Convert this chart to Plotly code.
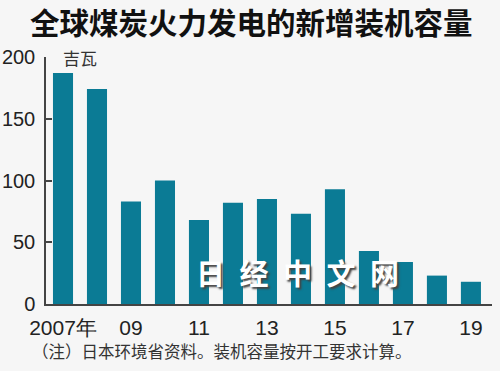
import plotly.graph_objects as go

years = list(range(2007, 2020))
capacity = [187, 174, 83, 100, 68, 82, 85, 73, 93, 43, 34, 23, 18]
xtick_vals = [2007, 2009, 2011, 2013, 2015, 2017, 2019]
xtick_text = ["2007年", "09", "11", "13", "15", "17", "19"]
ytick_vals = [0, 50, 100, 150, 200]

title = "全球煤炭火力发电的新增装机容量"
unit = "吉瓦"
note = "（注）日本环境省资料。装机容量按开工要求计算。"
watermark = "日\u2002经\u2002中\u2002文\u2002网"

num_font = "Liberation Sans, Arial, sans-serif"
cjk_font = "Noto Sans CJK SC, sans-serif"

fig = go.Figure()
fig.add_trace(go.Bar(
    x=years, y=capacity, width=0.59,
    marker=dict(color="#0b7b95", line=dict(width=0)),
    hoverinfo="x+y",
))

fig.update_layout(
    width=500, height=371,
    margin=dict(l=46, r=8, t=57, b=67, autoexpand=False),
    paper_bgcolor="#f6f6f6",
    plot_bgcolor="rgba(0,0,0,0)",
    showlegend=False,
    xaxis=dict(
        range=[2006.5, 2019.62], automargin=False,
        tickvals=xtick_vals, ticktext=xtick_text,
        showgrid=False, zeroline=False,
        showline=True, linecolor="#444", linewidth=1.5,
        ticks="", ticklabelstandoff=4,
        tickfont=dict(family=num_font, size=21, color="#222"),
        fixedrange=True,
    ),
    yaxis=dict(
        range=[0, 200], automargin=False,
        tickvals=ytick_vals,
        showgrid=False, zeroline=False,
        showline=True, linecolor="#444", linewidth=1.5,
        ticks="inside", ticklen=6, tickcolor="#444", tickwidth=1.5,
        ticklabelstandoff=5,
        tickfont=dict(family=num_font, size=20, color="#222"),
        fixedrange=True,
    ),
    annotations=[
        dict(text=f"<b>{title}</b>", xref="paper", yref="paper",
             x=0.5, y=1, xanchor="center", yanchor="bottom",
             yshift=14, xshift=-18, showarrow=False, borderpad=0,
             font=dict(family=cjk_font, size=29.5, color="#111")),
        dict(text=unit, xref="paper", yref="y",
             x=0, y=200, xanchor="left", yanchor="middle",
             xshift=15, showarrow=False,
             font=dict(family=cjk_font, size=17, color="#333")),
        dict(text=note, xref="paper", yref="paper",
             x=0, y=0, xanchor="left", yanchor="top",
             xshift=-16, yshift=-33, showarrow=False,
             font=dict(family=cjk_font, size=16.5, color="#333")),
        dict(text=f"<b>{watermark}</b>", xref="paper", yref="paper",
             x=0.563, y=0.13, xanchor="center", yanchor="middle",
             showarrow=False,
             font=dict(family=cjk_font, size=29, color="white",
                       shadow="2px 2px 2px #444")),
    ],
)

fig.write_html("out.html", config={"displayModeBar": False},
               post_script="document.body.style.margin='0';")
